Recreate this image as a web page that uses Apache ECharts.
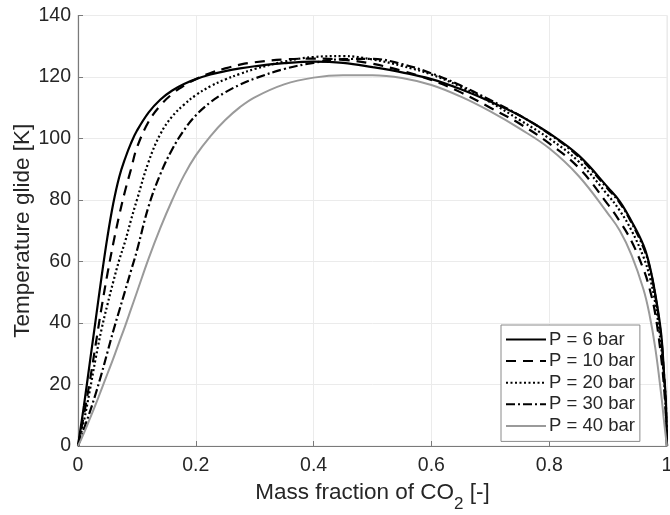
<!DOCTYPE html>
<html>
<head>
<meta charset="utf-8">
<script src="https://cdn.jsdelivr.net/npm/echarts@6/dist/echarts.min.js"></script>
<style>
html,body{margin:0;padding:0;background:#fff;}
#chart{width:670px;height:515px;}
</style>
</head>
<body>
<div id="chart"></div>
<script>
// Mass fraction of CO2 (x) shared by all curves
var massFraction = [0, 0.005, 0.01, 0.02, 0.03, 0.04, 0.05, 0.06, 0.07, 0.08, 0.09, 0.1, 0.12, 0.14, 0.16, 0.18, 0.2, 0.225, 0.25, 0.275, 0.3, 0.35, 0.4, 0.45, 0.5, 0.55, 0.6, 0.65, 0.7, 0.75, 0.8, 0.85, 0.9, 0.92, 0.94, 0.96, 0.97, 0.98, 0.99, 0.995, 0.998, 1];
// Temperature glide [K]
var glideP6  = [0, 6.5, 13, 27, 41, 55, 68, 79, 87.5, 93.5, 98.5, 102.5, 108.5, 112.7, 115.6, 117.7, 119.3, 120.8, 121.9, 122.8, 123.5, 124.5, 125, 124.6, 123.2, 121.5, 119.3, 116, 112, 107.5, 101.7, 94.5, 84, 79.5, 73, 65.3, 59, 49.5, 36.6, 23.5, 15, 0];
var glideP10 = [0, 5, 10, 21, 33, 45, 56, 66, 75, 83, 90, 97, 105.5, 110.8, 114.5, 117.2, 119.3, 121.3, 122.8, 124, 124.8, 125.7, 126, 125.6, 124.3, 122, 119, 115, 110, 104.8, 98.4, 90.5, 78.5, 73, 66.5, 57.5, 51.5, 43, 29, 19, 10, 0];
var glideP20 = [0, 4, 8, 18, 28.5, 38, 46, 53.5, 60.5, 66.5, 73.5, 80, 92.5, 101.5, 107.2, 111, 114.1, 117, 119.2, 121, 122.6, 125, 126.5, 126.8, 125.7, 123.6, 120.8, 116.8, 111.8, 106, 100, 92.5, 81.5, 76.5, 70, 61.5, 55.5, 46.5, 32.5, 21.5, 12, 0];
var glideP30 = [0, 2.7, 5.5, 11, 17, 23.5, 30.5, 37.5, 44, 50.5, 57, 63.5, 78, 88.5, 96.5, 102.7, 107.5, 111.8, 115, 117.5, 119.5, 122.6, 124.6, 125.8, 125.9, 124.2, 121.2, 117.2, 112.5, 107.5, 101.5, 94, 83.5, 79, 72.5, 64.5, 58.5, 49, 35.5, 23, 14, 0];
var glideP40 = [0, 2, 4.2, 8.8, 13.5, 18.5, 23.5, 28.5, 33.8, 39, 44.5, 50, 61, 71, 80, 88, 94.5, 100.8, 106, 110.2, 113.4, 117.6, 119.8, 120.6, 120.6, 119.7, 117.4, 113.6, 108.8, 103.2, 96.8, 87.8, 75.5, 70, 62, 51, 43, 32, 17, 8, 3, 0];
var seriesNames = ['P = 6 bar', 'P = 10 bar', 'P = 20 bar', 'P = 30 bar', 'P = 40 bar'];
var xTicks = [0, 0.2, 0.4, 0.6, 0.8, 1];
var yTicks = [0, 20, 40, 60, 80, 100, 120, 140];

function pairs(ys) { return massFraction.map(function (x, i) { return [x, ys[i]]; }); }

var FONT = 'Liberation Sans, Arial, sans-serif';
var TXT = '#262626';
var styles = [
  { color: '#000', width: 2.2, type: 'solid' },
  { color: '#000', width: 2.2, type: [10, 7] },
  { color: '#000', width: 2.2, type: [2, 2.5] },
  { color: '#000', width: 2.2, type: [9, 3, 2, 3] },
  { color: '#9a9a9a', width: 2, type: 'solid' }
];
var allData = [glideP6, glideP10, glideP20, glideP30, glideP40];

var chart = echarts.init(document.getElementById('chart'), null, { renderer: 'canvas' });
chart.setOption({
  animation: false,
  backgroundColor: '#fff',
  grid: { left: 78, right: 3, top: 15.5, bottom: 69, show: true, borderColor: '#e6e6e6', borderWidth: 1,
          containLabel: false, outerBoundsMode: 'none' },
  legend: {
    data: seriesNames,
    orient: 'vertical',
    left: 501, top: 325,
    padding: [5, 5, 6, 4],
    itemWidth: 40, itemHeight: 14, itemGap: 2.6,
    backgroundColor: '#fff',
    borderColor: '#8a8a8a', borderWidth: 1,
    itemStyle: { color: 'rgba(0,0,0,0)', borderWidth: 0, opacity: 0 },
    textStyle: { fontFamily: FONT, fontSize: 18.5, color: TXT, lineHeight: 18, padding: [0, 0, 0, -2] }
  },
  xAxis: {
    type: 'value', min: 0, max: 1, interval: 0.2,
    name: '{a|Mass fraction of CO}{b|2}{a| [-]}',
    nameLocation: 'middle', nameGap: 26, nameMoveOverlap: false,
    nameTextStyle: {
      rich: {
        a: { fontFamily: FONT, fontSize: 22.5, color: TXT },
        b: { fontFamily: FONT, fontSize: 17, color: TXT, padding: [24, 0, 0, 0] }
      }
    },
    axisLine: { show: true, lineStyle: { color: '#7a7a7a', width: 1.2 } },
    axisTick: { show: true, inside: true, length: 5, lineStyle: { color: '#7a7a7a' } },
    axisLabel: { fontFamily: FONT, fontSize: 19.5, color: TXT, margin: 10,
      formatter: function (v) { return xTicks.indexOf(v) >= 0 ? String(v) : ''; } },
    splitLine: { show: true, lineStyle: { color: '#ebebeb', width: 1 } }
  },
  yAxis: {
    type: 'value', min: 0, max: 140, interval: 20,
    name: 'Temperature glide [K]',
    nameLocation: 'middle', nameGap: 44, nameMoveOverlap: false,
    nameTextStyle: { fontFamily: FONT, fontSize: 22.5, color: TXT },
    axisLine: { show: true, lineStyle: { color: '#7a7a7a', width: 1.2 } },
    axisTick: { show: true, inside: true, length: 5, lineStyle: { color: '#7a7a7a' } },
    axisLabel: { fontFamily: FONT, fontSize: 19.5, color: TXT, margin: 7,
      formatter: function (v) { return yTicks.indexOf(v) >= 0 ? String(v) : ''; } },
    splitLine: { show: true, lineStyle: { color: '#ebebeb', width: 1 } }
  },
  series: seriesNames.map(function (n, i) {
    return {
      name: n, type: 'line', data: pairs(allData[i]),
      symbol: 'none', showSymbol: false,
      smooth: 0.4,
      lineStyle: styles[i],
      itemStyle: { color: styles[i].color },
      z: 2 + i
    };
  })
});
</script>
</body>
</html>
